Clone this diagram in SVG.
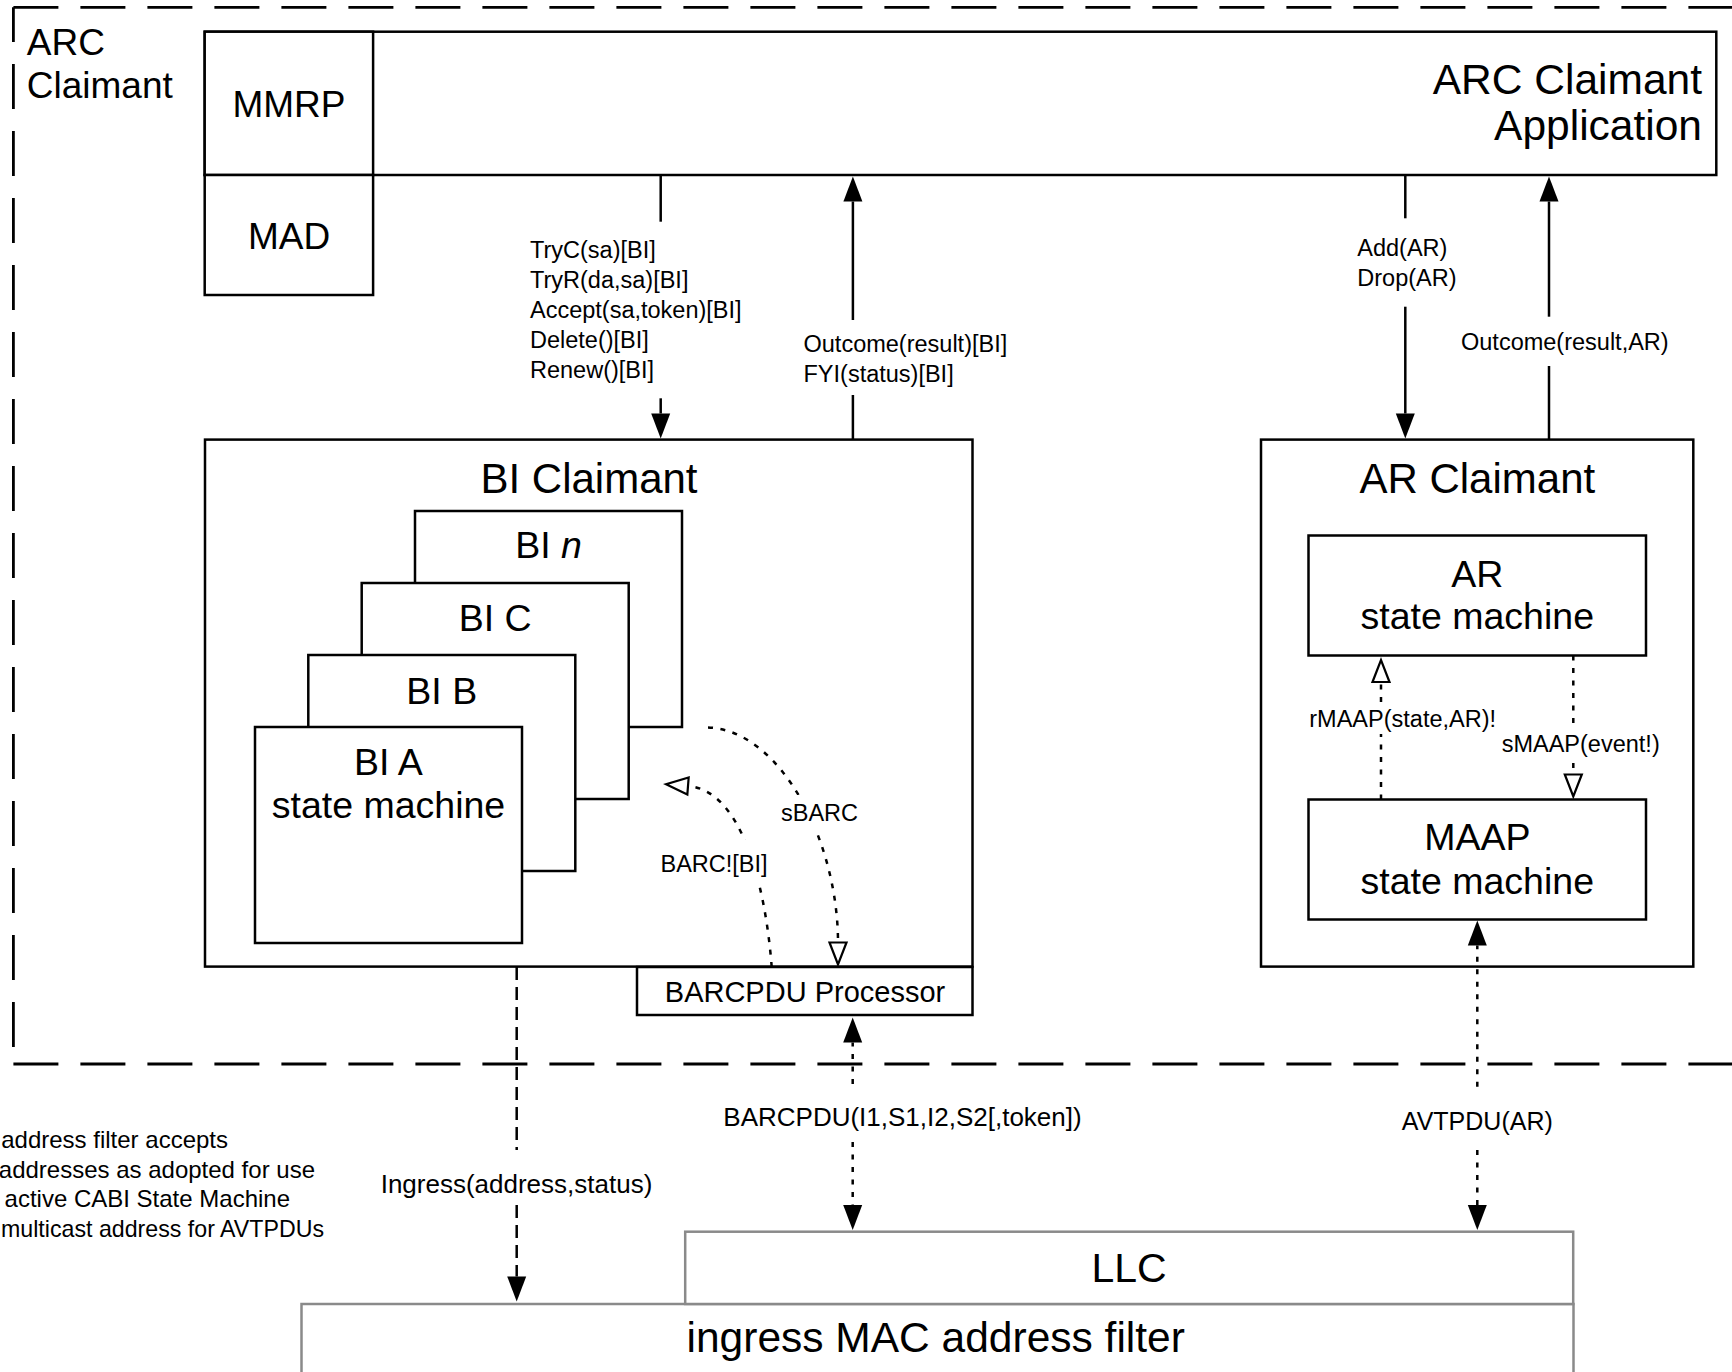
<svg xmlns="http://www.w3.org/2000/svg" width="1732" height="1372" viewBox="0 0 1732 1372">
  <style>
    .box { fill: #fff; stroke: #000; stroke-width: 2.5; }
    .gbox { fill: #fff; stroke: #8a8a8a; stroke-width: 2.5; }
    .ln { fill: none; stroke: #000; stroke-width: 2.5; }
    .dot { stroke-dasharray: 5 7.5; }
    .dash { stroke-dasharray: 13 7; }
    .border { fill: none; stroke: #000; stroke-width: 2.8; stroke-dasharray: 45 22; }
    .t { font-family: "Liberation Sans", Arial, Helvetica, sans-serif; fill: #000; }
    .big { font-size: 42.5px; }
    .title { font-size: 42px; text-anchor: middle; }
    .mid { font-size: 37.5px; text-anchor: middle; }
    .sm { font-size: 23.5px; }
    .c { text-anchor: middle; }
    .e { text-anchor: end; }
  </style>
  <defs>
    <marker id="solid" markerUnits="userSpaceOnUse" markerWidth="26" markerHeight="20" refX="0" refY="9.5" orient="auto" overflow="visible">
      <path d="M0,0 L25,9.5 L0,19 z" fill="#000"/>
    </marker>
    <marker id="open" markerUnits="userSpaceOnUse" markerWidth="24" markerHeight="19" refX="0" refY="8.5" orient="auto" overflow="visible">
      <path d="M0,0 L22,8.5 L0,17 z" fill="#fff" stroke="#000" stroke-width="2.2" stroke-linejoin="miter"/>
    </marker>
  </defs>

  <rect width="1732" height="1372" fill="#fff"/>

  <!-- ARC Claimant boundary (dashed, open to the right) -->
  <g id="arc-claimant-boundary">
    <path class="border" d="M13.4,7.3 H1760"/>
    <path class="border" d="M13.4,1064 H1760"/>
    <path class="border" d="M13.4,1064 V7.3" stroke-dashoffset="-17"/>
    <text class="t" x="26.8" y="55" font-size="37">ARC</text>
    <text class="t" x="26.8" y="98.3" font-size="37">Claimant</text>
  </g>

  <!-- Lower layers -->
  <g id="mac-filter">
    <rect class="gbox" x="301.5" y="1304" width="1272" height="110"/>
    <text class="t c" x="935.7" y="1352" font-size="42.5">ingress MAC address filter</text>
  </g>
  <g id="llc">
    <rect class="gbox" x="685.2" y="1231.7" width="888" height="72.3"/>
    <text class="t c" x="1129" y="1281.7" font-size="41">LLC</text>
  </g>

  <g id="application">
    <rect class="box" x="204.7" y="31.7" width="1511.6" height="143.3"/>
    <text class="t big e" x="1702" y="93.5">ARC Claimant</text>
    <text class="t big e" x="1702" y="140">Application</text>
  </g>
  <g id="mmrp">
    <rect class="box" x="204.7" y="31.7" width="168.4" height="143.3"/>
    <text class="t c" x="289" y="117" font-size="37">MMRP</text>
  </g>
  <g id="mad">
    <rect class="box" x="204.7" y="175" width="168.4" height="120"/>
    <text class="t c" x="289" y="248.5" font-size="37">MAD</text>
  </g>

  <g id="bi-claimant">
    <rect class="box" x="205" y="439.6" width="767.5" height="527"/>
    <text class="t title" x="589" y="493.2">BI Claimant</text>
  </g>
  <g id="bi-n">
    <rect class="box" x="415" y="511" width="267" height="216"/>
    <text class="t mid" x="548.5" y="557.5">BI <tspan font-style="italic">n</tspan></text>
  </g>
  <g id="bi-c">
    <rect class="box" x="361.7" y="583" width="267" height="216"/>
    <text class="t mid" x="495.2" y="630.7">BI C</text>
  </g>
  <g id="bi-b">
    <rect class="box" x="308.3" y="655" width="267" height="216"/>
    <text class="t mid" x="441.8" y="704">BI B</text>
  </g>
  <g id="bi-a">
    <rect class="box" x="255" y="727" width="267" height="216"/>
    <text class="t mid" x="388.5" y="775.4">BI A</text>
    <text class="t mid" x="388.5" y="818.2">state machine</text>
  </g>
  <g id="barcpdu-processor">
    <rect class="box" x="637" y="967" width="335.5" height="48"/>
    <text class="t c" x="805" y="1001.7" font-size="29">BARCPDU Processor</text>
  </g>

  <g id="ar-claimant">
    <rect class="box" x="1261" y="439.6" width="432.3" height="527"/>
    <text class="t title" x="1477.3" y="493.2">AR Claimant</text>
  </g>
  <g id="ar-state-machine">
    <rect class="box" x="1308.5" y="535.5" width="337.5" height="120"/>
    <text class="t mid" x="1477.3" y="587">AR</text>
    <text class="t mid" x="1477.3" y="629">state machine</text>
  </g>
  <g id="maap-state-machine">
    <rect class="box" x="1308.5" y="799.5" width="337.5" height="120"/>
    <text class="t mid" x="1477.3" y="850.4">MAAP</text>
    <text class="t mid" x="1477.3" y="894.3">state machine</text>
  </g>

  <!-- Connectors -->
  <g id="connectors">
    <!-- application to BI Claimant -->
    <path class="ln" d="M660.7,175 V221.7"/>
    <path class="ln" d="M660.7,398.3 V413.5" marker-end="url(#solid)"/>
    <!-- BI Claimant to application -->
    <path class="ln" d="M852.9,439.6 V395"/>
    <path class="ln" d="M852.9,320 V201.5" marker-end="url(#solid)"/>
    <!-- application to AR Claimant -->
    <path class="ln" d="M1405.3,175 V218.3"/>
    <path class="ln" d="M1405.3,306.7 V413.5" marker-end="url(#solid)"/>
    <!-- AR Claimant to application -->
    <path class="ln" d="M1549,439.6 V366"/>
    <path class="ln" d="M1549,316.7 V201.5" marker-end="url(#solid)"/>

    <!-- sBARC and BARC![BI] inside BI Claimant -->
    <path class="ln dot" d="M708,727.5 C780,730 838,840 838,942.5" marker-end="url(#open)"/>
    <path class="ln dot" d="M771.7,967 C765,880 740,790 688,786" marker-end="url(#open)"/>

    <!-- rMAAP / sMAAP -->
    <path class="ln dot" d="M1381,799.5 V734"/>
    <path class="ln dot" d="M1381,702 V682" marker-end="url(#open)"/>
    <path class="ln dot" d="M1573.3,655.5 V727"/>
    <path class="ln dot" d="M1573.3,763 V774.5" marker-end="url(#open)"/>

    <!-- AVTPDU -->
    <path class="ln dot" d="M1477.3,1086.7 V945.5" marker-end="url(#solid)"/>
    <path class="ln dot" d="M1477.3,1150 V1205" marker-end="url(#solid)"/>

    <!-- BARCPDU -->
    <path class="ln dot" d="M852.7,1084 V1042.5" marker-end="url(#solid)"/>
    <path class="ln dot" d="M852.7,1142 V1205" marker-end="url(#solid)"/>

    <!-- Ingress -->
    <path class="ln dash" d="M516.7,967 V1150"/>
    <path class="ln dash" d="M516.7,1205 V1276.5" marker-end="url(#solid)"/>
  </g>

  <!-- Connector labels -->
  <g id="labels">
    <text class="t sm" x="530" y="258.3">TryC(sa)[BI]</text>
    <text class="t sm" x="530" y="288.3">TryR(da,sa)[BI]</text>
    <text class="t sm" x="530" y="318.3">Accept(sa,token)[BI]</text>
    <text class="t sm" x="530" y="348.3">Delete()[BI]</text>
    <text class="t sm" x="530" y="378.3">Renew()[BI]</text>

    <text class="t sm" x="803.5" y="351.7">Outcome(result)[BI]</text>
    <text class="t sm" x="803.5" y="381.7">FYI(status)[BI]</text>

    <text class="t sm" x="1357.3" y="256">Add(AR)</text>
    <text class="t sm" x="1357.3" y="286">Drop(AR)</text>

    <text class="t sm" x="1461" y="350">Outcome(result,AR)</text>

    <rect x="780" y="795" width="78" height="34" fill="#fff"/>
    <text class="t sm c" x="819.5" y="821">sBARC</text>
    <rect x="658" y="840" width="112" height="45" fill="#fff"/>
    <text class="t sm c" x="714" y="872">BARC![BI]</text>

    <text class="t sm" x="1309.3" y="727">rMAAP(state,AR)!</text>
    <text class="t sm" x="1501.7" y="752">sMAAP(event!)</text>

    <text class="t c" x="902.5" y="1126" font-size="26">BARCPDU(I1,S1,I2,S2[,token])</text>
    <text class="t c" x="1477.3" y="1130" font-size="25">AVTPDU(AR)</text>
    <text class="t c" x="516.5" y="1193.3" font-size="26">Ingress(address,status)</text>
  </g>

  <!-- Note on the ingress filter -->
  <g id="filter-note">
    <text class="t e" x="228" y="1148.3" font-size="24">address filter accepts</text>
    <text class="t e" x="315" y="1178" font-size="24">addresses as adopted for use</text>
    <text class="t e" x="290" y="1207" font-size="24">active CABI State Machine</text>
    <text class="t" x="1" y="1236.7" font-size="24" textLength="323" lengthAdjust="spacingAndGlyphs">multicast address for AVTPDUs</text>
  </g>
</svg>
